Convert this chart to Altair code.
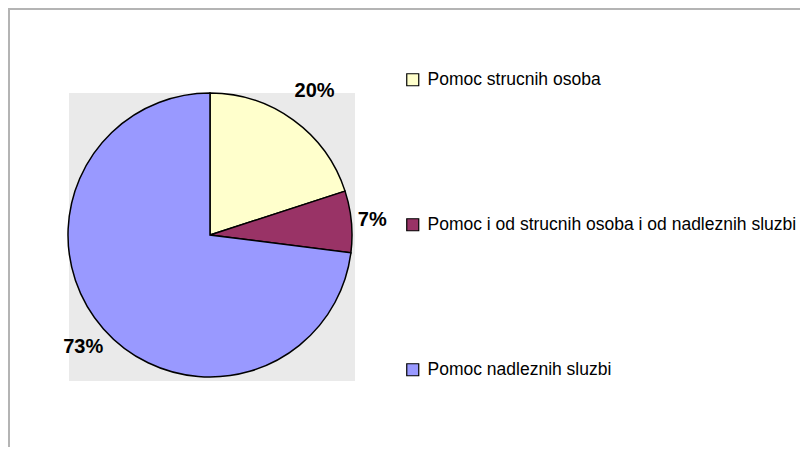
import altair as alt
import pandas as pd

categories = [
    "Pomoc strucnih osoba",
    "Pomoc i od strucnih osoba i od nadleznih sluzbi",
    "Pomoc nadleznih sluzbi",
]
values = [20, 7, 73]
labels = ["20%", "7%", "73%"]
colors = ["#FFFFCC", "#993366", "#9999FF"]
order = [0, 1, 2]

df = pd.DataFrame({"category": categories, "value": values, "label": labels, "order": order})

W, H = 282, 284

pie = alt.Chart(df).mark_arc(outerRadius=142, stroke="black", strokeWidth=1.5).encode(
    theta=alt.Theta("value:Q", stack=True),
    order=alt.Order("order:Q"),
    color=alt.Color(
        "category:N",
        scale=alt.Scale(domain=categories, range=colors),
        sort=categories,
        legend=alt.Legend(
            title=None,
            orient="none",
            legendX=335,
            legendY=-22,
            symbolType="square",
            symbolSize=144,
            symbolStrokeColor="black",
            symbolStrokeWidth=1.2,
            labelFont="Liberation Sans",
            labelFontSize=17.5,
            labelColor="black",
            rowPadding=126,
            labelOffset=6,
            labelLimit=0,
        ),
    ),
)

text = (
    alt.Chart(df)
    .transform_joinaggregate(total="sum(value)")
    .transform_window(cum="sum(value)", sort=[alt.SortField("order")], frame=[None, 0])
    .transform_calculate(
        mid="(datum.cum - datum.value / 2) / datum.total * 2 * PI",
        label_r="datum.value < 10 ? 163 : (datum.value > 50 ? 169 : 178)",
    )
    .mark_text(font="Liberation Sans", fontSize=20, fontWeight="bold", color="black")
    .encode(
        theta=alt.Theta("mid:Q", scale=None, stack=False),
        radius=alt.Radius("label_r:Q", scale=None),
        text="label:N",
    )
)

one = pd.DataFrame({"k": [0]})
bg = alt.Chart(one).mark_rect(color="#EAEAEA").encode(
    x=alt.value(0), x2=alt.value(286), y=alt.value(0), y2=alt.value(288)
)
frame_top = alt.Chart(one).mark_rect(color="#B4B4B4").encode(
    x=alt.value(-61), x2=alt.value(731), y=alt.value(-85), y2=alt.value(-83)
)
frame_left = alt.Chart(one).mark_rect(color="#B4B4B4").encode(
    x=alt.value(-61), x2=alt.value(-59), y=alt.value(-85), y2=alt.value(360)
)

chart = (
    alt.layer(frame_top, frame_left, bg, pie, text)
    .properties(
        width=W,
        height=H,
        padding={"left": 61, "top": 85, "right": 450, "bottom": 70},
        autosize=alt.AutoSizeParams(type="none"),
        background="white",
    )
    .configure_view(stroke=None)
)

chart.save("out.html", embed_options={"renderer": "svg", "actions": False})
